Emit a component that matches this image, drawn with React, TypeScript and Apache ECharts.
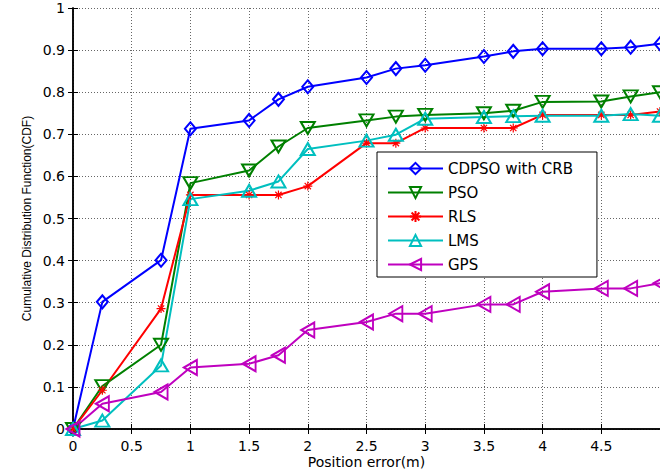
import React, { useEffect, useRef } from "react";
import * as echarts from "echarts";

const xs = [0, 0.25, 0.75, 1, 1.5, 1.75, 2, 2.5, 2.75, 3, 3.5, 3.75, 4, 4.5, 4.75, 5];
const cdpso = [0, 0.302, 0.401, 0.713, 0.733, 0.783, 0.813, 0.835, 0.856, 0.864, 0.885, 0.897, 0.903, 0.903, 0.907, 0.915];
const pso = [0, 0.102, 0.2, 0.584, 0.614, 0.671, 0.715, 0.733, 0.742, 0.746, 0.75, 0.756, 0.777, 0.778, 0.79, 0.8];
const rls = [0, 0.092, 0.286, 0.556, 0.556, 0.556, 0.577, 0.679, 0.679, 0.715, 0.715, 0.715, 0.746, 0.746, 0.746, 0.754];
const lms = [0, 0.02, 0.151, 0.546, 0.566, 0.588, 0.665, 0.685, 0.699, 0.737, 0.741, 0.743, 0.744, 0.744, 0.748, 0.744];
const gps = [0, 0.06, 0.088, 0.146, 0.155, 0.175, 0.235, 0.254, 0.274, 0.274, 0.296, 0.296, 0.326, 0.334, 0.334, 0.346];

const seriesNames = ["CDPSO with CRB", "PSO", "RLS", "LMS", "GPS"];
const seriesColors = ["#0000ff", "#008000", "#ff0000", "#00bfbf", "#bf00bf"];

const asterisk = "path://M5,0L5,10M0,5L10,5M1.5,1.5L8.5,8.5M8.5,1.5L1.5,8.5";

const FONT = "DejaVu Sans";

function pairs(ys: number[]) {
  return xs.map((x, i) => [x, ys[i]]);
}

export default function App() {
  const ref = useRef<HTMLDivElement>(null);
  useEffect(() => {
    if (!ref.current) return;
    const chart = echarts.init(ref.current, null, { renderer: "svg" });
    const mk = (
      idx: number,
      ys: number[],
      symbol: string,
      size: number | number[],
      rotate: number,
      bw: number
    ) => ({
      type: "line",
      name: seriesNames[idx],
      data: pairs(ys),
      symbol,
      symbolSize: size,
      symbolRotate: rotate,
      showAllSymbol: true,
      lineStyle: { color: seriesColors[idx], width: 2 },
      itemStyle: {
        color: "transparent",
        borderColor: seriesColors[idx],
        borderWidth: bw,
      },
      emphasis: { disabled: true },
    });
    const axisLine = { show: true, lineStyle: { color: "#000", width: 1.5 } };
    const tick = { show: true, inside: true, length: 5, lineStyle: { color: "#000", width: 1 } };
    const split = { show: true, lineStyle: { color: "#666", type: [1, 2], width: 1 } };
    chart.setOption({
      animation: false,
      backgroundColor: "#fff",
      grid: { left: 73, top: 8, right: 0, bottom: 46, containLabel: false },
      xAxis: [
        {
          type: "value",
          min: 0,
          max: 5,
          interval: 0.5,
          position: "bottom",
          axisLine,
          axisTick: tick,
          splitLine: split,
          axisLabel: {
            color: "#000",
            fontFamily: FONT,
            fontSize: 14,
            margin: 10,
            showMaxLabel: false,
          },
          name: "Position error(m)",
          nameLocation: "middle",
          nameGap: 26,
          nameMoveOverlap: false,
          nameTextStyle: { color: "#000", fontFamily: FONT, fontSize: 14 },
        },
        {
          type: "value",
          min: 0,
          max: 5,
          interval: 0.5,
          position: "top",
          axisLine,
          axisTick: tick,
          splitLine: { show: false },
          axisLabel: { show: false },
        },
      ],
      yAxis: [
        {
          type: "value",
          min: 0,
          max: 1,
          interval: 0.1,
          position: "left",
          axisLine,
          axisTick: tick,
          splitLine: split,
          axisLabel: { color: "#000", fontFamily: FONT, fontSize: 14, margin: 8 },
          name: "Cumulative Distribution Function(CDF)",
          nameLocation: "middle",
          nameGap: 40,
          nameRotate: 90,
          nameMoveOverlap: false,
          nameTextStyle: { color: "#000", fontFamily: "Liberation Sans", fontSize: 12 },
        },
        {
          type: "value",
          min: 0,
          max: 1,
          interval: 0.1,
          position: "right",
          axisLine,
          axisTick: tick,
          splitLine: { show: false },
          axisLabel: { show: false },
        },
      ],
      legend: {
        orient: "vertical",
        left: 377,
        top: 152,
        itemWidth: 55,
        itemHeight: 14,
        itemGap: 9,
        padding: [9, 24, 5, 10],
        borderColor: "#000",
        borderWidth: 1,
        backgroundColor: "#fff",
        borderRadius: 0,
        textStyle: { color: "#000", fontFamily: FONT, fontSize: 15, lineHeight: 14 },
        data: seriesNames,
      },
      series: [
        mk(0, cdpso, "diamond", [11, 13], 0, 2),
        mk(1, pso, "triangle", [14, 12], 180, 2),
        mk(2, rls, asterisk, 9, 0, 1.2),
        mk(3, lms, "triangle", [14, 12], 0, 2),
        mk(4, gps, "triangle", [15, 13], 90, 2),
      ],
    });
    return () => chart.dispose();
  }, []);
  return (
    <div
      ref={ref}
      style={{ position: "fixed", left: 0, top: 0, width: 660, height: 475 }}
    />
  );
}
